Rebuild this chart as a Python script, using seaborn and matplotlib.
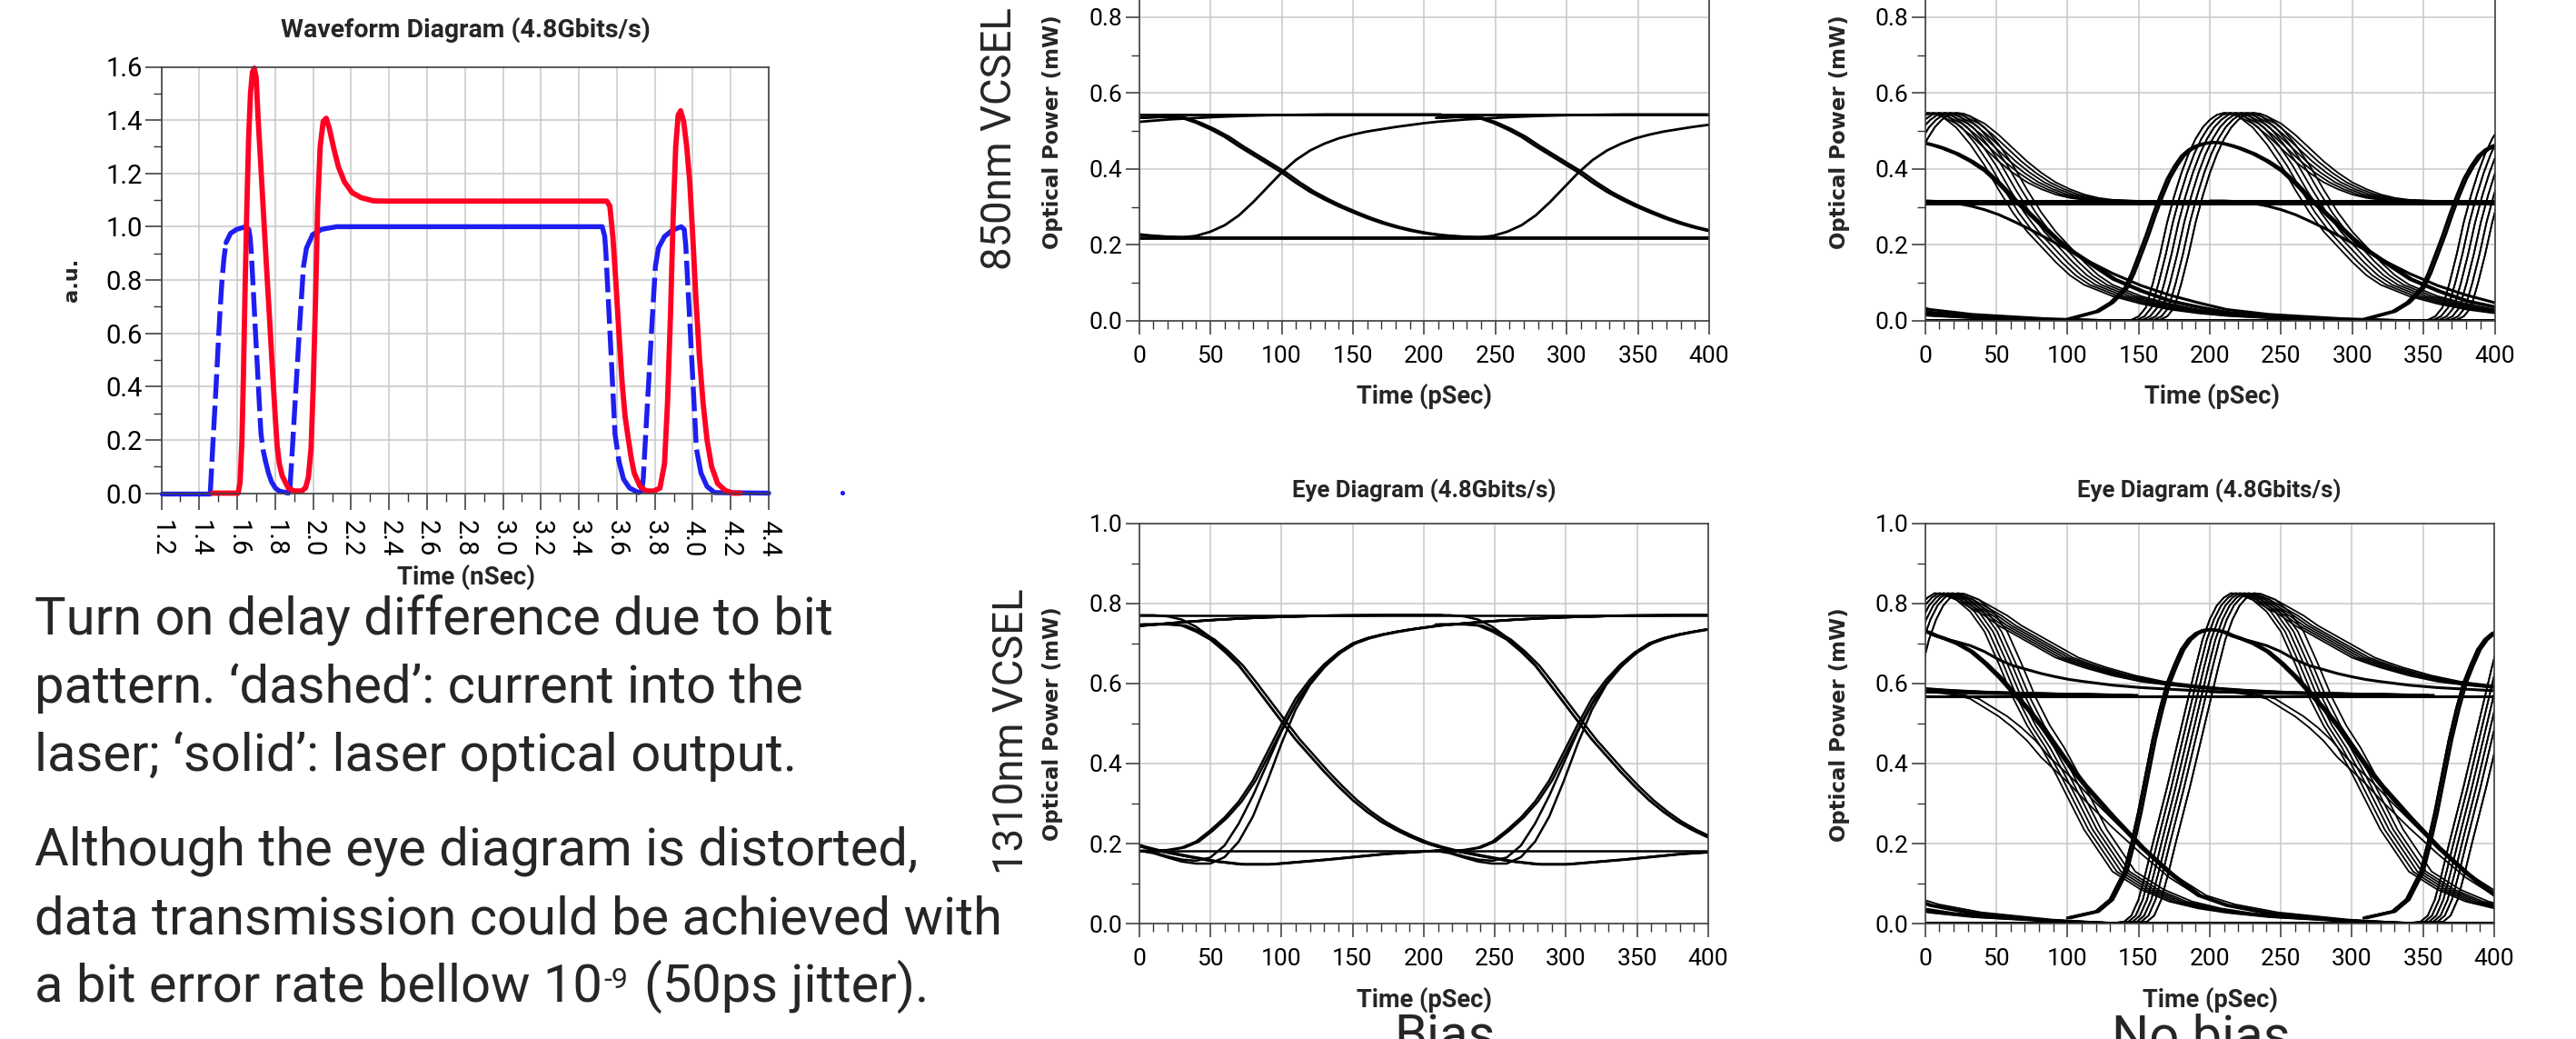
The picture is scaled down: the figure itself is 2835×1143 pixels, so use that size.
import numpy as np
import pandas as pd
import matplotlib
matplotlib.use("Agg")
import matplotlib.pyplot as plt
from matplotlib.ticker import MultipleLocator, FixedLocator, FormatStrFormatter
import seaborn as sns

# ------------------------------------------------------------------ data
# Waveform diagram (time in ns, amplitude in a.u.)
blue_t = [1.20, 1.458, 1.47, 1.48, 1.49, 1.50, 1.51, 1.52, 1.53, 1.541, 1.565, 1.597, 1.645,
          1.661, 1.668, 1.674, 1.685, 1.695, 1.705, 1.715, 1.725, 1.737, 1.749, 1.765, 1.781,
          1.80, 1.821, 1.869, 1.878, 1.89, 1.90, 1.91, 1.92, 1.93, 1.94, 1.949, 1.965, 1.997,
          2.045, 2.125, 3.523, 3.536, 3.542, 3.554, 3.566, 3.578, 3.59, 3.611, 3.635, 3.667,
          3.715, 3.731, 3.739, 3.755, 3.771, 3.787, 3.803, 3.819, 3.851, 3.891, 3.939, 3.955,
          3.963, 3.977, 3.991, 4.005, 4.019, 4.043, 4.075, 4.115, 4.40]
blue_v = [0.0, 0.0, 0.16, 0.29, 0.42, 0.56, 0.69, 0.80, 0.88, 0.94, 0.975, 0.99, 1.0,
          0.99, 0.96, 0.906, 0.76, 0.62, 0.49, 0.355, 0.224, 0.16, 0.12, 0.075, 0.042,
          0.02, 0.008, 0.0, 0.02, 0.16, 0.28, 0.40, 0.52, 0.64, 0.75, 0.85, 0.92, 0.97,
          0.99, 1.0, 1.0, 0.964, 0.906, 0.74, 0.57, 0.40, 0.224, 0.12, 0.053, 0.019,
          0.002, 0.008, 0.053, 0.26, 0.46, 0.66, 0.85, 0.92, 0.963, 0.986, 1.0, 0.99,
          0.93, 0.74, 0.55, 0.36, 0.167, 0.076, 0.025, 0.002, 0.0]
red_t = [1.469, 1.605, 1.615, 1.625, 1.633, 1.641, 1.65, 1.66, 1.67, 1.68, 1.69, 1.70, 1.709,
         1.725, 1.74, 1.755, 1.77, 1.785, 1.80, 1.81, 1.822, 1.837, 1.869, 1.90, 1.94, 1.96,
         1.975, 1.989, 2.0, 2.013, 2.024, 2.037, 2.053, 2.069, 2.085, 2.109, 2.133, 2.165,
         2.205, 2.253, 2.317, 2.381, 3.547, 3.563, 3.579, 3.595, 3.611, 3.627, 3.643, 3.659,
         3.675, 3.691, 3.723, 3.755, 3.795, 3.827, 3.851, 3.867, 3.883, 3.896, 3.91, 3.923,
         3.936, 3.952, 3.968, 3.984, 4.0, 4.016, 4.035, 4.054, 4.075, 4.099, 4.131, 4.171,
         4.211, 4.251]
red_v = [0.0, 0.0, 0.04, 0.2, 0.45, 0.75, 1.05, 1.33, 1.5, 1.58, 1.595, 1.56, 1.42,
         1.22, 1.03, 0.84, 0.66, 0.47, 0.29, 0.18, 0.11, 0.065, 0.019, 0.008, 0.008, 0.02,
         0.06, 0.167, 0.39, 0.736, 1.077, 1.30, 1.395, 1.407, 1.37, 1.293, 1.225, 1.168,
         1.128, 1.109, 1.097, 1.096, 1.096, 1.077, 0.963, 0.79, 0.6, 0.42, 0.29, 0.21,
         0.135, 0.076, 0.025, 0.008, 0.008, 0.019, 0.11, 0.34, 0.68, 1.02, 1.30, 1.418,
         1.435, 1.395, 1.30, 1.168, 0.963, 0.736, 0.51, 0.34, 0.2, 0.1, 0.036, 0.01,
         0.0, 0.0]
stray_t = [4.79]
stray_v = [0.0]

# Eye diagrams (time in ps, optical power in mW)
ui_ps = 208.3

# --- with bias: edge shapes read over one frame
bias_t = [0, 10, 20, 30, 40, 50, 60, 70, 80, 90, 100, 110, 120, 130, 140, 150, 160, 170,
          180, 190, 200, 210, 220, 230, 240, 260, 280, 300, 340, 380, 420]
tm_fall = [0.535, 0.537, 0.538, 0.535, 0.522, 0.505, 0.485, 0.46, 0.437, 0.414, 0.391, 0.364,
           0.34, 0.32, 0.302, 0.286, 0.271, 0.258, 0.247, 0.238, 0.231, 0.226, 0.223, 0.221,
           0.22, 0.219, 0.219, 0.219, 0.219, 0.219, 0.219]
tm_rise = [0.219, 0.219, 0.219, 0.22, 0.224, 0.235, 0.252, 0.278, 0.313, 0.352, 0.391, 0.424,
           0.449, 0.467, 0.481, 0.491, 0.499, 0.505, 0.511, 0.516, 0.521, 0.525, 0.528, 0.531,
           0.533, 0.537, 0.54, 0.542, 0.544, 0.544, 0.544]
tm_levels = [0.544, 0.219]
tm_fall_delays = [0, 3]

bm_fall_a = [0.748, 0.748, 0.748, 0.745, 0.73, 0.71, 0.68, 0.645, 0.6, 0.553, 0.506, 0.46,
             0.42, 0.38, 0.343, 0.309, 0.28, 0.255, 0.235, 0.218, 0.203, 0.192, 0.183, 0.176,
             0.169, 0.156, 0.148, 0.148, 0.16, 0.174, 0.183]
bm_fall_b = [0.771, 0.771, 0.768, 0.76, 0.742, 0.716, 0.684, 0.647, 0.6, 0.553, 0.506, 0.46,
             0.42, 0.38, 0.343, 0.309, 0.28, 0.255, 0.235, 0.218, 0.203, 0.192, 0.183, 0.176,
             0.169, 0.156, 0.148, 0.148, 0.16, 0.174, 0.183]
bm_rise_a = [0.182, 0.182, 0.184, 0.19, 0.205, 0.233, 0.265, 0.305, 0.358, 0.428, 0.498, 0.563,
             0.61, 0.648, 0.678, 0.7, 0.713, 0.722, 0.729, 0.735, 0.74, 0.745, 0.748, 0.751,
             0.754, 0.759, 0.763, 0.766, 0.77, 0.771, 0.771]
bm_rise_b = [0.182, 0.178, 0.168, 0.16, 0.157, 0.165, 0.195, 0.25, 0.32, 0.4, 0.48, 0.548,
             0.6, 0.643, 0.676, 0.7, 0.713, 0.722, 0.729, 0.735, 0.74, 0.745, 0.748, 0.751,
             0.754, 0.759, 0.763, 0.766, 0.77, 0.771, 0.771]
bm_rise_c = [0.182, 0.176, 0.165, 0.155, 0.15, 0.15, 0.166, 0.205, 0.268, 0.355, 0.45, 0.535,
             0.597, 0.64, 0.674, 0.7, 0.713, 0.722, 0.729, 0.735, 0.74, 0.745, 0.748, 0.751,
             0.754, 0.759, 0.763, 0.766, 0.77, 0.771, 0.771]
bm_levels = [0.771, 0.182]

# --- no bias: turn-on edge, then either fall (next bit 0) or hold (next bit 1)
nb_rise_t = [100, 120, 130, 140, 145, 150, 155, 160, 165, 170, 175, 180, 185, 190, 195, 200,
             205, 210, 215, 220]
nb_after_t = [230, 240, 250, 260, 270, 280, 290, 300, 310, 320, 340, 360, 380, 400, 420, 450,
              500, 550]
fl_t = [200, 210, 220, 230, 240, 250, 260, 270, 280, 290, 300, 310, 320, 340, 360, 380, 400,
        420, 450, 500, 550]

tr_rise = [0.0, 0.0, 0.0, 0.0, 0.003, 0.012, 0.035, 0.1, 0.175, 0.26, 0.33, 0.39, 0.44, 0.48,
           0.51, 0.53, 0.543, 0.548, 0.546, 0.539]
tr_after_fall = [0.51, 0.465, 0.41, 0.345, 0.285, 0.235, 0.195, 0.155, 0.12, 0.095, 0.065,
                 0.045, 0.03, 0.02, 0.013, 0.007, 0.003, 0.0]
tr_after_hold = [0.52, 0.49, 0.455, 0.42, 0.39, 0.365, 0.347, 0.333, 0.324, 0.319, 0.316,
                 0.316, 0.316, 0.316, 0.316, 0.316, 0.316, 0.316]
tr_early_rise = [0.005, 0.025, 0.048, 0.086, 0.126, 0.175, 0.225, 0.28, 0.33, 0.375, 0.408,
                 0.435, 0.451, 0.461, 0.467, 0.47, 0.47, 0.466, 0.461, 0.455]
tr_early_after_fall = [0.44, 0.42, 0.395, 0.36, 0.32, 0.285, 0.25, 0.215, 0.185, 0.16, 0.11,
                       0.078, 0.052, 0.036, 0.022, 0.012, 0.004, 0.0]
tr_level_fall = [0.316, 0.316, 0.314, 0.31, 0.303, 0.293, 0.28, 0.263, 0.245, 0.225, 0.205,
                 0.185, 0.163, 0.125, 0.093, 0.068, 0.048, 0.03, 0.017, 0.006, 0.0]
tr_levels = [0.316, 0.309, 0.003]
tr_delays = [0, 4, 8, 12, 16, 20]

br_rise = [0.0, 0.0, 0.0, 0.005, 0.02, 0.06, 0.127, 0.2, 0.27, 0.34, 0.415, 0.49, 0.565, 0.64,
           0.71, 0.76, 0.795, 0.815, 0.826, 0.824]
br_after_fall = [0.81, 0.78, 0.73, 0.65, 0.565, 0.495, 0.44, 0.375, 0.305, 0.235, 0.13, 0.085,
                 0.055, 0.038, 0.027, 0.016, 0.006, 0.0]
br_after_hold = [0.81, 0.79, 0.77, 0.745, 0.725, 0.705, 0.685, 0.665, 0.652, 0.64, 0.62, 0.605,
                 0.596, 0.589, 0.584, 0.579, 0.575, 0.572]
br_early_rise = [0.014, 0.03, 0.06, 0.13, 0.2, 0.279, 0.37, 0.46, 0.535, 0.6, 0.645, 0.685,
                 0.71, 0.725, 0.733, 0.735, 0.733, 0.728, 0.72, 0.714]
br_early_after_fall = [0.7, 0.68, 0.65, 0.615, 0.575, 0.535, 0.49, 0.44, 0.39, 0.345, 0.265,
                       0.19, 0.125, 0.07, 0.045, 0.025, 0.008, 0.0]
br_early_after_hold = [0.705, 0.695, 0.68, 0.66, 0.645, 0.635, 0.625, 0.617, 0.61, 0.605,
                       0.596, 0.59, 0.586, 0.582, 0.579, 0.576, 0.573, 0.571]
br_level_fall = [0.578, 0.578, 0.576, 0.571, 0.562, 0.54, 0.518, 0.49, 0.457, 0.415, 0.382,
                 0.348, 0.31, 0.24, 0.175, 0.115, 0.07, 0.048, 0.028, 0.01, 0.0]
br_levels = [0.569, 0.003]
br_delays = [0, 3, 6, 9, 12, 16]
br_fl_delays = [0, 6]

# text
para_lines = ["Turn on delay difference due to bit",
              "pattern. \u2018dashed\u2019: current into the",
              "laser; \u2018solid\u2019: laser optical output.",
              "Although the eye diagram is distorted,",
              "data transmission could be achieved with",
              "a bit error rate bellow 10"]

# ------------------------------------------------------------------ style
sns.set_theme(style="white")
plt.rcParams["font.family"] = ["Roboto", "DejaVu Sans"]
plt.rcParams["axes.unicode_minus"] = False
CH = "Roboto"
LB = "DejaVu Sans"
BLUE = "#1e1ef0"
RED = "#ff0022"
GRID = "#c8c8c8"
SPINE = "#404040"

W, H, DPI = 2835, 1143, 100
fig = plt.figure(figsize=(W / DPI, H / DPI), dpi=DPI)


def rect(left, right, top, bottom):
    return [left / W, 1 - bottom / H, (right - left) / W, (bottom - top) / H]


def fp(x, y):
    return x / W, 1 - y / H


bg = fig.add_axes([0, 0, 1, 1])
bg.set_axis_off()
bg.set_xlim(0, 1)
bg.set_ylim(0, 1)


def style_axes(ax, xmaj, xmin, ymaj, ymin, labelsize, maj_len, xpad, ypad):
    ax.xaxis.set_major_locator(MultipleLocator(xmaj))
    ax.xaxis.set_minor_locator(MultipleLocator(xmin))
    if isinstance(ymaj, list):
        ax.yaxis.set_major_locator(FixedLocator(ymaj))
    else:
        ax.yaxis.set_major_locator(MultipleLocator(ymaj))
    ax.yaxis.set_minor_locator(MultipleLocator(ymin))
    ax.yaxis.set_major_formatter(FormatStrFormatter("%.1f"))
    ax.grid(True, which="major", color=GRID, linewidth=1.1)
    ax.grid(False, which="minor")
    ax.set_axisbelow(True)
    ax.tick_params(which="major", direction="out", length=maj_len, width=1.1,
                   color="#333333", labelsize=labelsize, labelcolor="black",
                   bottom=True, left=True, top=False, right=False)
    ax.tick_params(which="minor", direction="out", length=6.5, width=1.0,
                   color="#333333", bottom=True, left=True, top=False, right=False)
    ax.tick_params(axis="x", which="major", pad=xpad)
    ax.tick_params(axis="y", which="major", pad=ypad)
    for s in ax.spines.values():
        s.set_visible(True)
        s.set_color(SPINE)
        s.set_linewidth(1.2)
    ax.set_xlabel("")
    ax.set_ylabel("")


# ------------------------------------------------------------------ waveform diagram
axw = fig.add_axes(rect(177.5, 846, 73.5, 542.5))
bt, bv = np.array(blue_t), np.array(blue_v)
steep = np.abs(np.diff(bv) / np.diff(bt)) > 3.0
run = np.concatenate([[0], np.cumsum(steep[1:] != steep[:-1])])
parts = []
for r in np.unique(run):
    seg = np.where(run == r)[0]
    idx = np.arange(seg[0], seg[-1] + 2)
    parts.append(pd.DataFrame({"t": bt[idx], "v": bv[idx], "run": int(r),
                               "steep": bool(steep[seg[0]])}))
blue_df = pd.concat(parts, ignore_index=True)
sns.lineplot(data=blue_df[~blue_df["steep"]], x="t", y="v", units="run", estimator=None,
             sort=False, color=BLUE, linewidth=3.9, ax=axw, legend=False, clip_on=False)
sns.lineplot(data=blue_df[blue_df["steep"]], x="t", y="v", units="run", estimator=None,
             sort=False, color=BLUE, linewidth=3.9, linestyle=(0, (5, 1.4)), ax=axw,
             legend=False, clip_on=False)
red_df = pd.DataFrame({"t": red_t, "v": red_v})
sns.lineplot(data=red_df, x="t", y="v", estimator=None, sort=False, color=RED, linewidth=4.2,
             ax=axw, legend=False, clip_on=False)
sns.scatterplot(x=stray_t, y=stray_v, color=BLUE, s=14, edgecolor="none", ax=axw,
                legend=False, clip_on=False)
axw.set_xlim(1.2, 4.4)
axw.set_ylim(0, 1.6)
style_axes(axw, 0.2, 0.1, 0.2, 0.1, 21, 13, 8, 2)
axw.xaxis.set_major_formatter(FormatStrFormatter("%.1f"))
axw.tick_params(axis="x", which="major", labelrotation=-90)

bg.text(*fp(512, 33), "Waveform Diagram (4.8Gbits/s)", ha="center", va="center",
        fontsize=20.5, fontweight="bold", family=CH)
bg.text(*fp(79, 308), "a.u.", ha="center", va="center", rotation=90,
        fontsize=16.2, fontweight="bold", family=LB)
bg.text(*fp(513, 635), "Time (nSec)", ha="center", va="center",
        fontsize=20, fontweight="bold", family=CH)


# ------------------------------------------------------------------ eye diagrams
def copies(t, v, delays, offsets):
    out = []
    for d in delays:
        for o in offsets:
            out.append((np.asarray(t, float) + d + o, np.asarray(v, float)))
    return out


def flat(levels):
    return [(np.array([0.0, 400.0]), np.array([lv, lv])) for lv in levels]


def draw_traces(ax, traces, lw):
    frames = [pd.DataFrame({"t": t, "v": v, "trace": i}) for i, (t, v) in enumerate(traces)]
    df = pd.concat(frames, ignore_index=True)
    sns.lineplot(data=df, x="t", y="v", units="trace", estimator=None, sort=False,
                 color="black", linewidth=lw, ax=ax, legend=False)


def style_eye(ax, top_cut=False):
    ax.set_xlim(0, 400)
    ax.set_ylim(0, 1.0)
    ymaj = [0.0, 0.2, 0.4, 0.6, 0.8] if top_cut else 0.2
    style_axes(ax, 50, 10, ymaj, 0.1, 19, 11, 8.5, 2)


off_bias = [-ui_ps, 0, ui_ps]
off_nb = [-2 * ui_ps, -ui_ps, 0, ui_ps]

# 850 nm, bias
ax_tm = fig.add_axes(rect(1253.7, 1881, -64.5, 353))
tm = (copies(bias_t, tm_fall, tm_fall_delays, off_bias)
      + copies(bias_t, tm_rise, [0], off_bias) + flat(tm_levels))
draw_traces(ax_tm, tm, 2.0)
style_eye(ax_tm, top_cut=True)

# 850 nm, no bias
ax_tr = fig.add_axes(rect(2118.7, 2745.5, -64.5, 353))
nb_t = nb_rise_t + nb_after_t
tr_thin = (copies(nb_t, tr_rise + tr_after_fall, tr_delays, off_nb)
           + copies(nb_t, tr_rise + tr_after_hold, tr_delays, off_nb))
tr_thick = (copies(nb_t, tr_early_rise + tr_early_after_fall, [0, 2], off_nb)
            + copies(fl_t, tr_level_fall, [0], off_nb) + flat(tr_levels))
draw_traces(ax_tr, tr_thin, 1.3)
draw_traces(ax_tr, tr_thick, 2.2)
style_eye(ax_tr, top_cut=True)

# 1310 nm, bias
ax_bm = fig.add_axes(rect(1253.7, 1880, 576, 1016))
bm = (copies(bias_t, bm_fall_a, [0, 3], off_bias) + copies(bias_t, bm_fall_b, [0], off_bias)
      + copies(bias_t, bm_rise_a, [0, 2], off_bias) + copies(bias_t, bm_rise_b, [0], off_bias)
      + copies(bias_t, bm_rise_c, [0], off_bias) + flat(bm_levels))
draw_traces(ax_bm, bm, 1.8)
style_eye(ax_bm)

# 1310 nm, no bias
ax_br = fig.add_axes(rect(2118.7, 2745, 576, 1016))
br_thin = (copies(nb_t, br_rise + br_after_fall, br_delays, off_nb)
           + copies(nb_t, br_rise + br_after_hold, br_delays, off_nb)
           + copies(fl_t, br_level_fall, br_fl_delays, off_nb))
br_thick = (copies(nb_t, br_early_rise + br_early_after_fall, [0, 2], off_nb)
            + copies(nb_t, br_early_rise + br_early_after_hold, [0], off_nb)
            + flat(br_levels))
draw_traces(ax_br, br_thin, 1.3)
draw_traces(ax_br, br_thick, 2.2)
style_eye(ax_br)

# eye labels
for (x, y) in [(1567, 540), (2431, 540)]:
    bg.text(*fp(x, y), "Eye Diagram (4.8Gbits/s)", ha="center", va="center",
            fontsize=18.5, fontweight="bold", family=CH)
for (x, y) in [(1158, 145), (2025, 145), (1158, 796), (2024, 797)]:
    bg.text(*fp(x, y), "Optical Power (mW)", ha="center", va="center", rotation=90,
            fontsize=16.5, fontweight="bold", family=LB)
for (x, y) in [(1568, 436), (2434, 436), (1567, 1100), (2432, 1100)]:
    bg.text(*fp(x, y), "Time (pSec)", ha="center", va="center",
            fontsize=19.5, fontweight="bold", family=CH)

bg.text(*fp(1100, 153), "850nm VCSEL", ha="center", va="center", rotation=90,
        fontsize=32.8, family=CH)
bg.text(*fp(1113, 805), "1310nm VCSEL", ha="center", va="center", rotation=90,
        fontsize=32.8, family=CH)

# ------------------------------------------------------------------ paragraph
BODY = 41.7
baselines = [697, 773, 848, 951, 1028, 1102]
last = None
for line, yb in zip(para_lines, baselines):
    last = bg.text(*fp(38, yb), line, ha="left", va="baseline", fontsize=BODY, family=CH)
sup = bg.annotate("-9", xy=(1, fp(0, 1064)[1]), xycoords=(last, "axes fraction"),
                  xytext=(1, 0), textcoords="offset points", ha="left", va="top",
                  fontsize=23, family=CH)
bg.annotate("(50ps jitter).", xy=(1, fp(0, 1102)[1]), xycoords=(sup, "axes fraction"),
            xytext=(13, 0), textcoords="offset points", ha="left", va="baseline",
            fontsize=BODY, family=CH)

bg.text(*fp(1590, 1115), "Bias", ha="center", va="top", fontsize=BODY, family=CH)
bg.text(*fp(2422, 1115), "No bias", ha="center", va="top", fontsize=BODY, family=CH)

fig.savefig("out.png", dpi=DPI)
